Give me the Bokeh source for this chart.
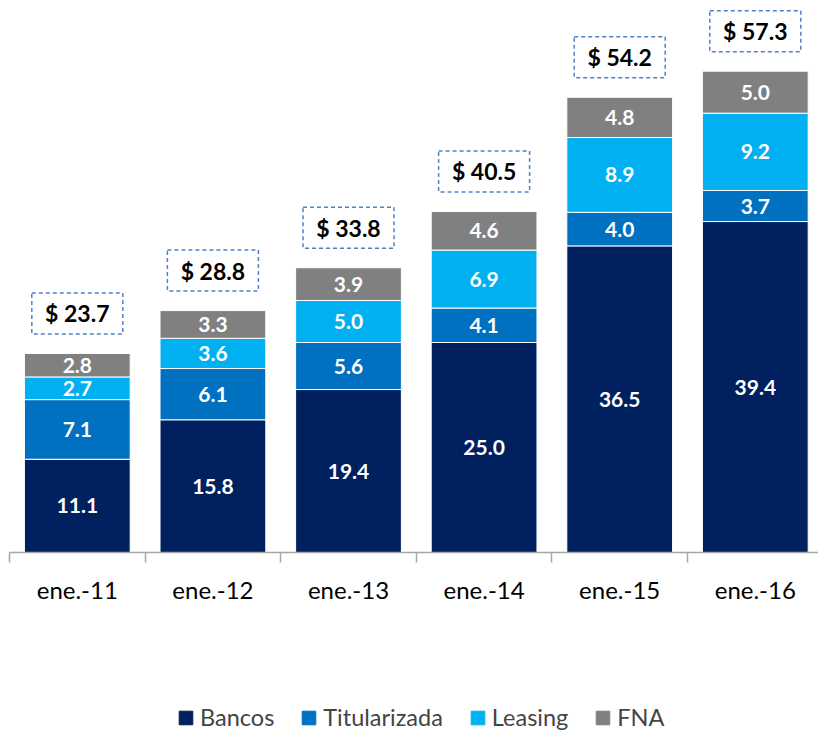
from bokeh.plotting import figure
from bokeh.layouts import column
from bokeh.models import (ColumnDataSource, Range1d, FixedTicker, Legend, LegendItem)
from bokeh.core.properties import value
from bokeh.embed import file_html
from bokeh.resources import INLINE

categories = ["ene.-11", "ene.-12", "ene.-13", "ene.-14", "ene.-15", "ene.-16"]
bancos = [11.1, 15.8, 19.4, 25.0, 36.5, 39.4]
titularizada = [7.1, 6.1, 5.6, 4.1, 4.0, 3.7]
leasing = [2.7, 3.6, 5.0, 6.9, 8.9, 9.2]
fna = [2.8, 3.3, 3.9, 4.6, 4.8, 5.0]
totals = [23.7, 28.8, 33.8, 40.5, 54.2, 57.3]
series_names = ["Bancos", "Titularizada", "Leasing", "FNA"]
series_values = [bancos, titularizada, leasing, fna]
colors = ["#002060", "#0070C0", "#00B0F0", "#808080"]

FONT = "Lato"
PX_PER_CAT = 135.6
PX_PER_UNIT = 8.40
W = 818
H1, H2 = 620, 112
LEFT, BOTTOM = 9, 68
frame_w = W - LEFT
frame_h = H1 - BOTTOM

xs = [i + 0.5 for i in range(len(categories))]
keys = ["bancos", "titularizada", "leasing", "fna"]
data = {"x": xs}
for k, v in zip(keys, series_values):
    data[k] = v
source = ColumnDataSource(data)

p = figure(width=W, height=H1, output_backend="svg", toolbar_location=None,
           x_range=Range1d(0, frame_w / PX_PER_CAT),
           y_range=Range1d(0, frame_h / PX_PER_UNIT),
           min_border_left=LEFT, min_border_right=0, min_border_top=0,
           min_border_bottom=BOTTOM)
p.outline_line_color = None
p.grid.visible = False
p.yaxis.visible = False
p.background_fill_color = "white"
p.border_fill_color = "white"

p.vbar_stack(keys, x="x", width=0.78, color=colors, source=source,
             line_color="white", line_width=1)

# segment labels
lx, ly, lt = [], [], []
for i in range(len(categories)):
    base = 0.0
    for series in series_values:
        v = series[i]
        lx.append(xs[i])
        ly.append(base + v / 2)
        lt.append(f"{v:.1f}")
        base += v
p.text(x=lx, y=ly, text=lt, text_color="white", text_font=value(FONT),
       text_font_style="bold", text_font_size="21px",
       text_align="center", text_baseline="middle")

# total labels with dashed boxes
tops = [sum(s[i] for s in series_values) for i in range(len(categories))]
box_y = [t + 40 / PX_PER_UNIT for t in tops]
p.rect(x=xs, y=box_y, width=91, height=41, width_units="screen",
       height_units="screen", fill_color=None, line_color="#4F81C7",
       line_width=1.5, line_dash="4 3")
p.text(x=xs, y=box_y, text=[f"$ {t:.1f}" for t in totals], text_color="black",
       text_font=value(FONT), text_font_style="bold", text_font_size="23px",
       text_align="center", text_baseline="middle")

ax = p.xaxis[0]
ax.ticker = FixedTicker(ticks=xs, minor_ticks=list(range(len(categories) + 1)))
ax.major_label_overrides = {x: c for x, c in zip(xs, categories)}
ax.major_tick_line_color = None
ax.major_tick_out = 0
ax.major_tick_in = 0
ax.minor_tick_out = 10
ax.minor_tick_in = 0
ax.minor_tick_line_color = "#A6A6A6"
ax.axis_line_color = "#A6A6A6"
ax.axis_line_width = 1.5
ax.minor_tick_line_width = 1.5
ax.major_label_text_font = FONT
ax.major_label_text_font_size = "24px"
ax.major_label_text_color = "black"
ax.major_label_standoff = 12

# legend figure (its swatch renderers sit outside the visible range)
p2 = figure(width=W, height=H2, output_backend="svg", toolbar_location=None,
            x_range=Range1d(0, 1), y_range=Range1d(0, 1),
            min_border_left=0, min_border_right=0, min_border_top=0,
            min_border_bottom=0)
p2.axis.visible = False
p2.grid.visible = False
p2.outline_line_color = None
leg_renderers = [p2.vbar(x=[5], top=[1], width=0.5, color=c) for c in colors]
legend = Legend(items=[LegendItem(label=n, renderers=[r]) for n, r in zip(series_names, leg_renderers)],
                orientation="horizontal", location=(168, 1),
                glyph_width=17, glyph_height=17, label_standoff=6, spacing=26,
                label_text_font=FONT, label_text_font_size="23.5px",
                border_line_color=None, background_fill_alpha=0,
                padding=0, margin=0)
p2.add_layout(legend, "center")

open("out.html", "w").write(file_html(column(p, p2, spacing=0), INLINE))
